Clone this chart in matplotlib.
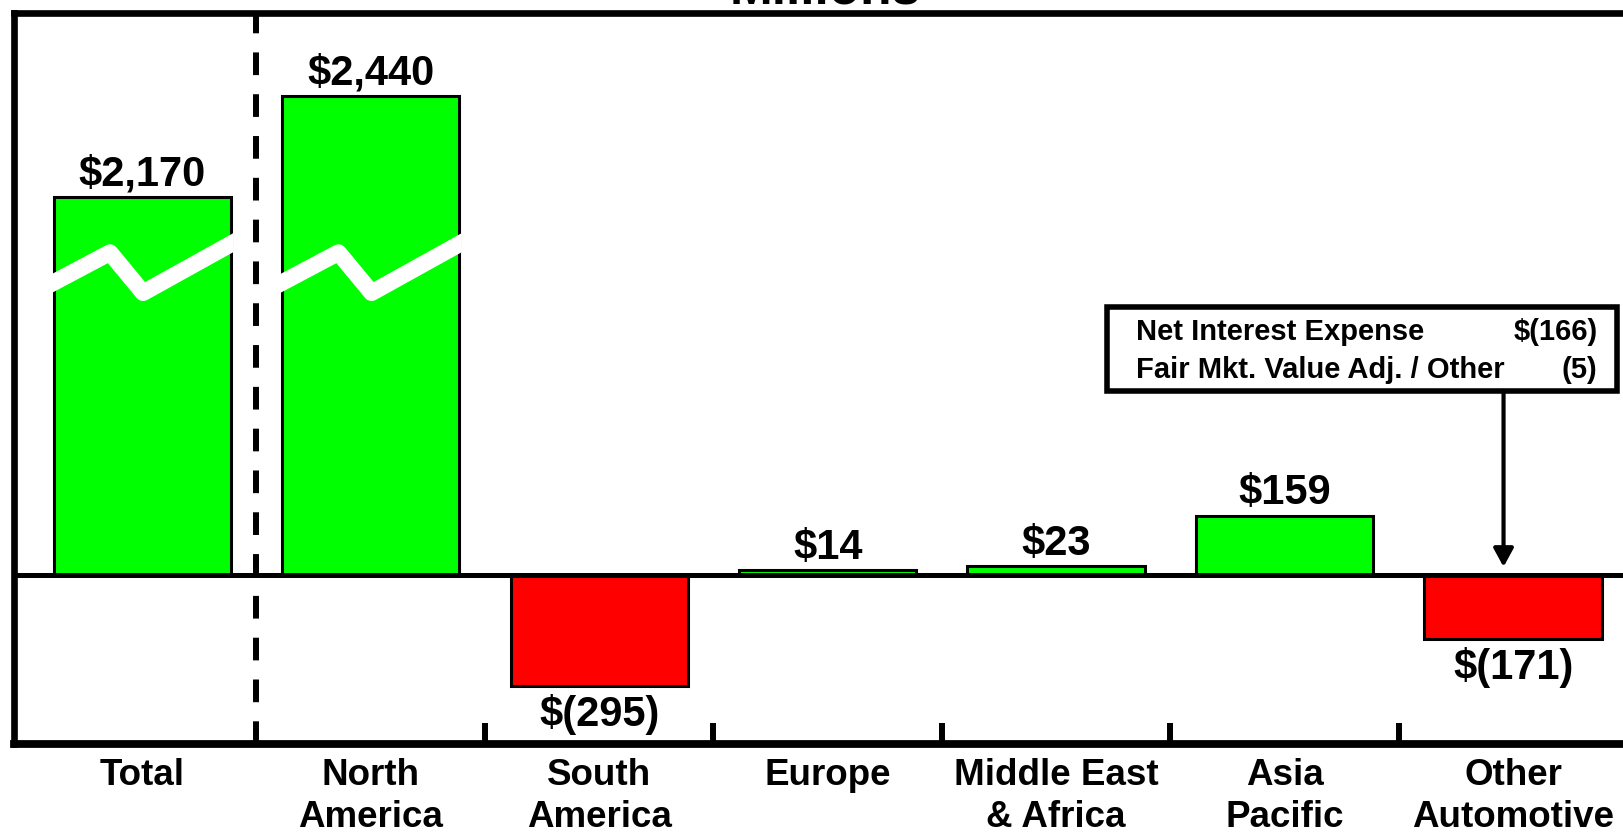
import matplotlib
matplotlib.use("Agg")
import matplotlib.pyplot as plt
from matplotlib.patches import Rectangle

plt.rcParams["font.family"] = ["Liberation Sans", "DejaVu Sans"]
plt.rcParams["font.weight"] = "bold"

# data (millions)
categories = ["Total", "North\nAmerica", "South\nAmerica", "Europe",
              "Middle East\n& Africa", "Asia\nPacific", "Other\nAutomotive"]
values = [2170, 2440, -295, 14, 23, 159, -171]
value_labels = ["$2,170", "$2,440", "$(295)", "$14", "$23", "$159", "$(171)"]
broken = [True, True, False, False, False, False, False]
adj_labels = ["Net Interest Expense", "Fair Mkt. Value Adj. / Other"]
adj_values = ["$(166)", "(5)"]

# broken bars are drawn shortened by this amount
BREAK_OFFSET = 1160
GREEN = "#00ff00"
RED = "#ff0000"

fig = plt.figure(figsize=(16.24, 8.34), dpi=100)
ax = fig.add_axes([14 / 1624, 90 / 834, 1644 / 1624, 730.7 / 834])
ax.set_xlim(-0.561, 6.634)
ax.set_ylim(-451, 1500)

x = list(range(len(values)))
heights = [v - BREAK_OFFSET if b else v for v, b in zip(values, broken)]
colors = [GREEN if v >= 0 else RED for v in values]
width = 0.776
bars = ax.bar(x, heights, width=width, color=colors, edgecolor="black",
              linewidth=2.2, zorder=2)

ax.axhline(0, color="black", linewidth=3.6, zorder=3)

# zigzag break marks on the shortened bars
zig_dx = [-0.388, -0.141, 0.004, 0.388]
zig_y = [781, 861, 754, 884]
for xi, b in zip(x, broken):
    if not b:
        continue
    line, = ax.plot([xi + d for d in zig_dx], zig_y, color="white",
                    linewidth=12, solid_joinstyle="round",
                    solid_capstyle="projecting", zorder=4)
    clip = Rectangle((xi - width / 2 - 0.008, 0), width + 0.016, 1400,
                     transform=ax.transData)
    line.set_clip_path(clip)

# value labels
for xi, v, h, lab in zip(x, values, heights, value_labels):
    if v >= 0:
        ax.annotate(lab, (xi, h), xytext=(0, 8), textcoords="offset points",
                    ha="center", va="baseline", fontsize=30,
                    fontweight="bold", zorder=5)
    else:
        ax.annotate(lab, (xi, h), xytext=(0, -6), textcoords="offset points",
                    ha="center", va="top", fontsize=30,
                    fontweight="bold", zorder=5)

# dashed separator between Total and regions
ax.axvline(0.5, color="black", linewidth=4.3, linestyle=(0, (3.8, 3.2)),
           zorder=3)

# adjustment box with arrow to Other Automotive
box = Rectangle((4.224, 492), 6.453 - 4.224, 717 - 492, facecolor="white",
                edgecolor="black", linewidth=4, zorder=6, clip_on=False)
ax.add_patch(box)
for lab, val, yb in zip(adj_labels, adj_values, [628, 527]):
    ax.text(4.35, yb, lab, ha="left", va="baseline", fontsize=21,
            fontweight="bold", zorder=7)
    ax.text(6.37, yb, val, ha="right", va="baseline", fontsize=21,
            fontweight="bold", zorder=7)
ax.annotate("", xy=(5.958, 22), xytext=(5.958, 492),
            arrowprops=dict(arrowstyle="-|>,head_width=0.6,head_length=1.1",
                            color="black", linewidth=3, shrinkA=0, shrinkB=0),
            zorder=6)

# axes styling
ax.set_yticks([])
ax.set_xticks(x)
ax.set_xticklabels(categories, fontsize=26.5, fontweight="bold",
                   linespacing=1.28)
ax.tick_params(axis="x", which="major", length=0, pad=10)
ax.set_xticks([1.5, 2.5, 3.5, 4.5, 5.5], minor=True)
ax.tick_params(axis="x", which="minor", direction="in", length=15,
               width=4.3, color="black")
for side in ["left", "right", "top"]:
    ax.spines[side].set_linewidth(4.8)
ax.spines["bottom"].set_linewidth(5.6)

fig.text(825 / 1624, 1 - 4 / 834, "Millions", ha="center", va="baseline",
         fontsize=37, fontweight="bold")

plt.savefig("out.png", dpi=100)
plt.close()
